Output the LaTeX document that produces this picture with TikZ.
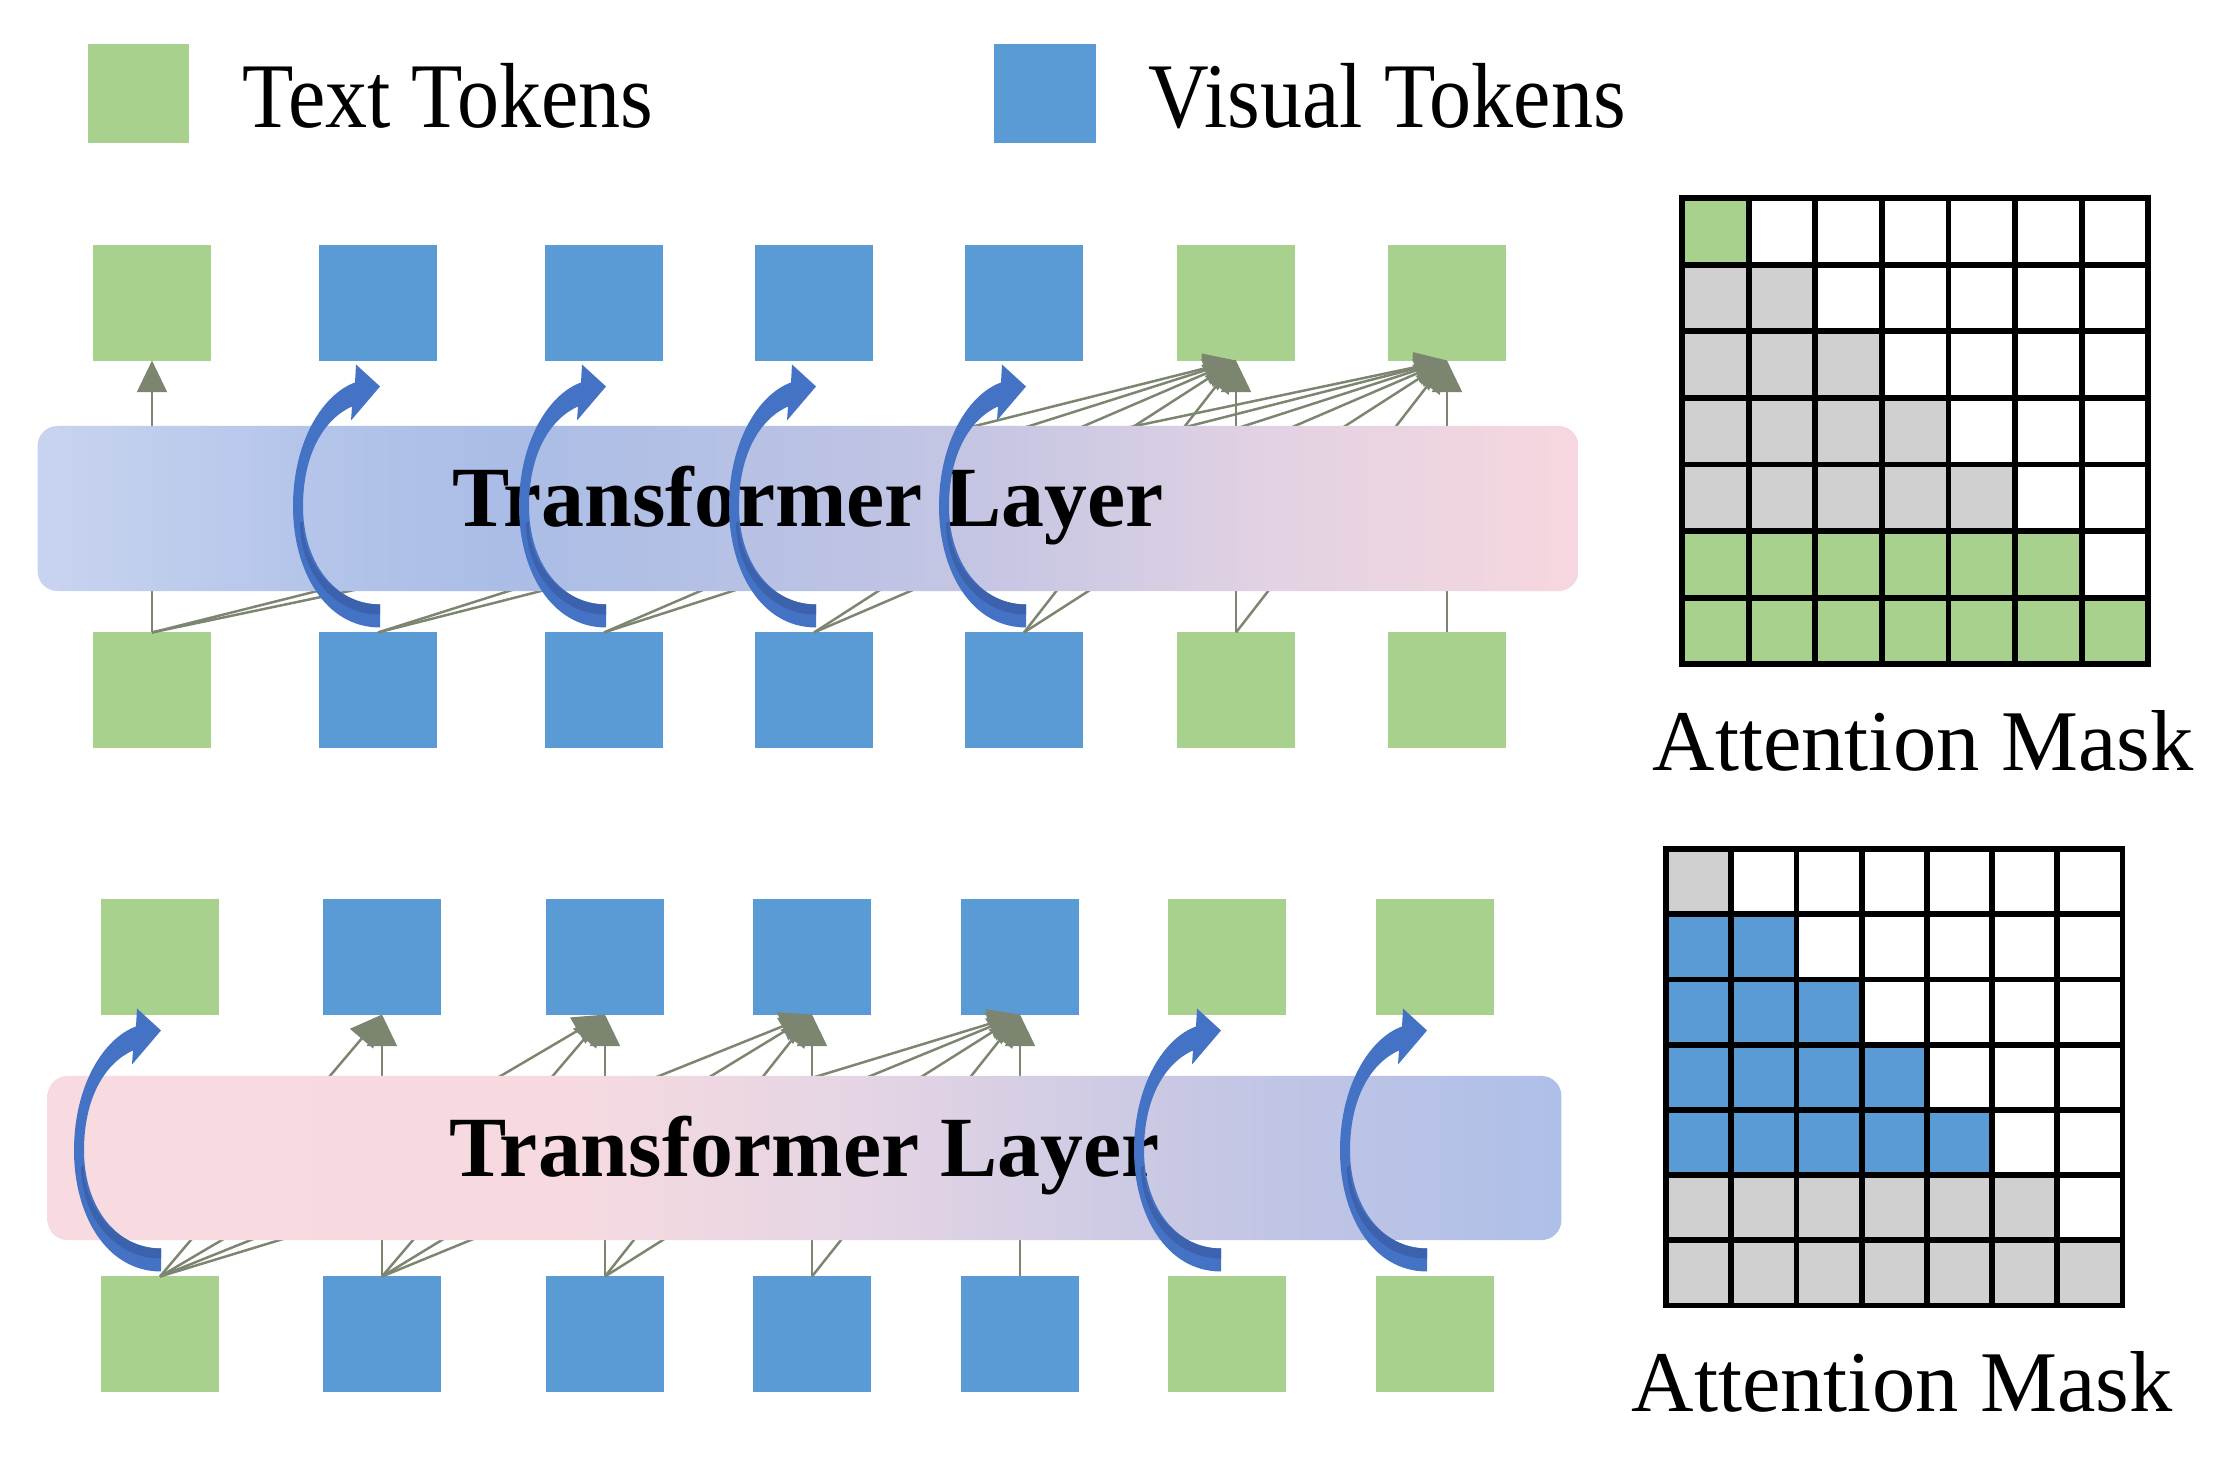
\documentclass[tikz,border=0pt]{standalone}
\usepackage{fontspec}
\usepackage{graphicx}
\setmainfont{Liberation Serif}
\usetikzlibrary{arrows.meta,calc}
\definecolor{tgreen}{HTML}{A9D18E}
\definecolor{tblue}{HTML}{5B9BD5}
\definecolor{arrblue}{HTML}{4472C4}
\definecolor{arrdark}{HTML}{3D62AD}
\definecolor{conncol}{HTML}{7B8570}
\definecolor{mgray}{HTML}{D0D0D0}
% top band colours
\definecolor{tbA}{HTML}{C8D4EF}
\definecolor{tbB}{HTML}{B5C5EA}
\definecolor{tbC}{HTML}{AABDE6}
\definecolor{tbD}{HTML}{BAC2E4}
\definecolor{tbE}{HTML}{C6C6E3}
\definecolor{tbF}{HTML}{E2D2E3}
\definecolor{tbG}{HTML}{F7D7DF}
% bottom band colours
\definecolor{bbA}{HTML}{F8DBE0}
\definecolor{bbB}{HTML}{F6DAE0}
\definecolor{bbC}{HTML}{E3D4E4}
\definecolor{bbD}{HTML}{C4C6E4}
\definecolor{bbE}{HTML}{AEBFE8}
\pgfdeclarehorizontalshading{topband}{100bp}{color(0bp)=(tbA); color(25bp)=(tbA); color(33.5bp)=(tbB); color(40bp)=(tbC); color(50bp)=(tbD); color(56bp)=(tbE); color(65bp)=(tbF); color(75bp)=(tbG); color(100bp)=(tbG)}
\pgfdeclarehorizontalshading{botband}{100bp}{color(0bp)=(bbA); color(25bp)=(bbA); color(42.5bp)=(bbB); color(52.5bp)=(bbC); color(64bp)=(bbD); color(75bp)=(bbE); color(100bp)=(bbE)}
\newcommand{\curvedtok}[1]{%
  \begin{scope}[shift={(#1)}]
    \fill[arrblue] (0,-5) .. controls (-55,-5) and (-87,-62) .. (-87,-126)
      .. controls (-87,-190) and (-58,-238) .. (-25,-250)
      -- (-24,-268) -- (0,-246) -- (-29,-212) -- (-28,-226)
      .. controls (-55,-214) and (-77,-180) .. (-77,-126)
      .. controls (-77,-70) and (-45,-28) .. (0,-28) -- cycle;
    \fill[arrdark] (0,-28) .. controls (-45,-28) and (-77,-70) .. (-77,-110)
      -- (-80,-110) .. controls (-80,-62) and (-48,-18) .. (0,-18) -- cycle;
  \end{scope}}
\begin{document}
\begin{tikzpicture}[x=0.01cm,y=-0.01cm,
  token/.style={minimum width=1.17cm,minimum height=1.15cm,inner sep=0pt,outer sep=0pt},
  txt/.style={token,fill=tgreen},
  vis/.style={token,fill=tblue},
  connline/.style={draw=conncol,line width=0.7pt,-{Triangle[width=8.5pt,length=9pt]}},
  layerbox/.style={rounded corners=0.2cm,inner sep=0pt,text height=1.3em,text depth=0.25em,
    font=\fontsize{24.4pt}{28pt}\selectfont\bfseries},
  legendtext/.style={anchor=base west,inner sep=0pt,font=\fontsize{23.9pt}{28pt}\selectfont},
  masklabel/.style={anchor=base,inner sep=0pt,font=\fontsize{24.6pt}{28pt}\selectfont},
  gridline/.style={line width=1.65pt,line cap=rect},
]
\useasboundingbox (0,0) rectangle (2227,1457);
\fill[white] (0,0) rectangle (2227,1457);

% legend
\node[token,fill=tgreen,minimum width=1.01cm,minimum height=0.99cm] (legG) at (138.5,93.5) {};
\node[legendtext] (legGt) at (242,127) {\scalebox{1}[1.1]{Text Tokens}};
\node[token,fill=tblue,minimum width=1.01cm,minimum height=0.99cm] (legB) at (1045,93.5) {};
\node[legendtext] (legBt) at (1148,127) {\scalebox{1}[1.1]{Visual Tokens}};

% ---------- top section tokens ----------
\node[txt] (t1) at (152,303) {};
\node[vis] (t2) at (378,303) {};
\node[vis] (t3) at (604,303) {};
\node[vis] (t4) at (814,303) {};
\node[vis] (t5) at (1024,303) {};
\node[txt] (t6) at (1236,303) {};
\node[txt] (t7) at (1447,303) {};
\node[txt] (b1) at (152,690) {};
\node[vis] (b2) at (378,690) {};
\node[vis] (b3) at (604,690) {};
\node[vis] (b4) at (814,690) {};
\node[vis] (b5) at (1024,690) {};
\node[txt] (b6) at (1236,690) {};
\node[txt] (b7) at (1447,690) {};

% connectors top section
\draw[connline] (b1.north) -- (t1.south);
\foreach \j in {6,7}{\foreach \i in {1,...,\j}{\draw[connline] (b\i.north) -- (t\j.south);}}

% ---------- bottom section tokens ----------
\node[txt] (p1) at (160,957) {};
\node[vis] (p2) at (382,957) {};
\node[vis] (p3) at (605,957) {};
\node[vis] (p4) at (812,957) {};
\node[vis] (p5) at (1020,957) {};
\node[txt] (p6) at (1227,957) {};
\node[txt] (p7) at (1435,957) {};
\node[txt] (q1) at (160,1334) {};
\node[vis] (q2) at (382,1334) {};
\node[vis] (q3) at (605,1334) {};
\node[vis] (q4) at (812,1334) {};
\node[vis] (q5) at (1020,1334) {};
\node[txt] (q6) at (1227,1334) {};
\node[txt] (q7) at (1435,1334) {};

\foreach \j in {2,...,5}{\foreach \i in {1,...,\j}{\draw[connline] (q\i.north) -- (p\j.south);}}

% ---------- transformer layers ----------
\node[layerbox,shading=topband,minimum width=15.4cm,minimum height=1.65cm] (layerA) at (808,508.5) {Transformer Layer};
\node[layerbox,shading=botband,minimum width=15.13cm,minimum height=1.64cm] (layerB) at (804.5,1158) {Transformer Layer};

% ---------- curved self arrows ----------
\curvedtok{$(b2.north)+(2,0)$}
\curvedtok{$(b3.north)+(2,0)$}
\curvedtok{$(b4.north)+(2,0)$}
\curvedtok{$(b5.north)+(2,0)$}
\curvedtok{$(q1.north)+(1,0)$}
\curvedtok{$(q6.north)+(-6,0)$}
\curvedtok{$(q7.north)+(-8,0)$}

% ---------- attention mask (top) ----------
\begin{scope}[shift={(1682,198)}]
  \fill[tgreen] (0,0) rectangle ++(66.6,66.6);
  \foreach \r in {1,...,4}{\foreach \k in {0,...,\r}{\fill[mgray] ({\k*66.6},{\r*66.6}) rectangle ++(66.6,66.6);}}
  \foreach \r in {5,6}{\foreach \k in {0,...,\r}{\fill[tgreen] ({\k*66.6},{\r*66.6}) rectangle ++(66.6,66.6);}}
  \foreach \i in {0,...,7}{
    \draw[gridline] ({\i*66.6},0) -- ({\i*66.6},466.2);
    \draw[gridline] (0,{\i*66.6}) -- (466.2,{\i*66.6});}
\end{scope}
\node[masklabel] (maskA) at (1923,770) {Attention Mask};

% ---------- attention mask (bottom) ----------
\begin{scope}[shift={(1666,849)}]
  \fill[mgray] (0,0) rectangle ++(65.2,65.2);
  \foreach \r in {1,...,4}{\foreach \k in {0,...,\r}{\fill[tblue] ({\k*65.2},{\r*65.2}) rectangle ++(65.2,65.2);}}
  \foreach \r in {5,6}{\foreach \k in {0,...,\r}{\fill[mgray] ({\k*65.2},{\r*65.2}) rectangle ++(65.2,65.2);}}
  \foreach \i in {0,...,7}{
    \draw[gridline] ({\i*65.2},0) -- ({\i*65.2},456.4);
    \draw[gridline] (0,{\i*65.2}) -- (456.4,{\i*65.2});}
\end{scope}
\node[masklabel] (maskB) at (1902,1411) {Attention Mask};
\end{tikzpicture}
\end{document}
